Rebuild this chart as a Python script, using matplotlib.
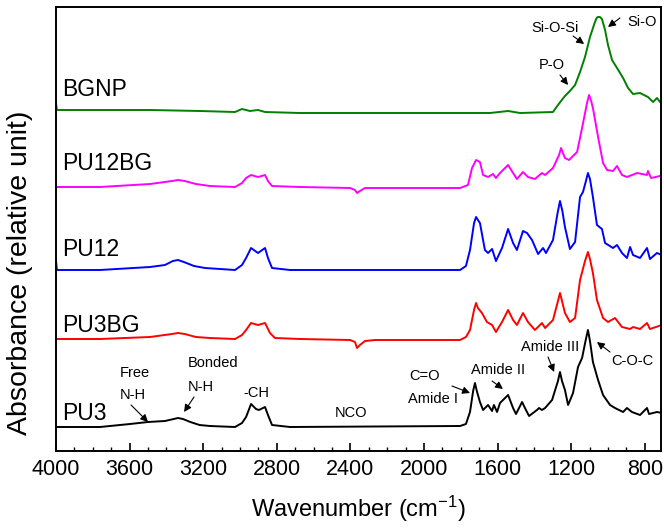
import matplotlib
matplotlib.use("Agg")
import matplotlib.pyplot as plt
from matplotlib.ticker import MultipleLocator

plt.rcParams['font.family'] = ['Liberation Sans', 'DejaVu Sans']
plt.rcParams['mathtext.default'] = 'regular'

# ---------------- data (wavenumber cm-1, absorbance in arbitrary stacked units) -------------
pu3_w = [4000, 3761, 3598, 3500, 3408, 3360, 3337, 3310, 3270, 3220, 3163, 3027, 2989, 2967,
         2940, 2913, 2897, 2864, 2848, 2826, 2728, 1804, 1772, 1750, 1733, 1723, 1713, 1696,
         1679, 1652, 1630, 1620, 1603, 1587, 1543, 1516, 1500, 1467, 1446, 1429, 1386, 1375,
         1359, 1342, 1304, 1272, 1261, 1250, 1234, 1217, 1190, 1163, 1141, 1120, 1109, 1098,
         1082, 1054, 1027, 989, 962, 918, 897, 870, 826, 788, 777, 734, 707]
pu3_a = [24, 24, 27, 29, 30, 32, 33, 32, 29, 26, 25, 24, 28, 34,
         47, 42, 41, 44, 36, 26, 24, 25, 27, 39, 60, 68, 60, 49,
         41, 46, 40, 46, 39, 48, 56, 43, 37, 49, 41, 35, 41, 43,
         41, 43, 51, 70, 79, 70, 61, 46, 58, 84, 93, 112, 121, 110,
         89, 71, 56, 46, 43, 39, 43, 39, 36, 43, 37, 39, 38]

pu3bg_w = [4000, 3761, 3489, 3370, 3337, 3300, 3240, 3163, 3027, 2989, 2967, 2940, 2902, 2864,
           2837, 2810, 2674, 2402, 2375, 2364, 2348, 2321, 2266, 1804, 1772, 1750, 1727, 1717,
           1707, 1685, 1658, 1630, 1609, 1576, 1543, 1516, 1495, 1462, 1435, 1397, 1359, 1342,
           1299, 1272, 1261, 1250, 1234, 1207, 1179, 1152, 1125, 1109, 1098, 1082, 1060, 1027,
           1000, 962, 924, 880, 864, 826, 788, 772, 707]
pu3bg_a = [112, 112, 114, 117, 118, 117, 114, 113, 112, 116, 121, 128, 126, 128,
           118, 113, 112, 111, 109, 103, 106, 110, 111, 111, 114, 121, 142, 148,
           143, 138, 129, 126, 119, 129, 141, 131, 126, 138, 129, 121, 128, 123,
           131, 150, 158, 150, 138, 129, 133, 171, 190, 199, 192, 178, 151, 133,
           129, 133, 124, 122, 124, 122, 128, 122, 126]

pu12_w = [4000, 3995, 3761, 3489, 3408, 3365, 3337, 3305, 3250, 3190, 3027, 2989, 2967, 2940,
          2902, 2864, 2848, 2826, 2728, 1804, 1772, 1750, 1728, 1717, 1707, 1696, 1669, 1652,
          1630, 1609, 1576, 1543, 1516, 1495, 1462, 1440, 1413, 1380, 1353, 1337, 1299, 1274,
          1261, 1248, 1234, 1207, 1179, 1152, 1136, 1120, 1109, 1098, 1082, 1060, 1033, 1016,
          973, 951, 924, 897, 880, 864, 826, 788, 772, 734, 707]
pu12_a = [190, 181, 181, 184, 186, 190, 191, 189, 185, 183, 181, 186, 193, 203,
          198, 203, 193, 183, 181, 181, 185, 201, 228, 234, 231, 228, 201, 198,
          202, 190, 203, 222, 208, 201, 220, 218, 211, 197, 203, 198, 211, 238,
          250, 240, 224, 202, 209, 254, 259, 270, 278, 272, 254, 226, 222, 208,
          203, 206, 198, 193, 204, 196, 193, 203, 192, 198, 196]

pu12bg_w = [4000, 3761, 3489, 3370, 3337, 3300, 3240, 3163, 3027, 2989, 2967, 2940, 2902, 2864,
            2848, 2826, 2674, 2402, 2375, 2364, 2348, 2321, 1804, 1761, 1739, 1717, 1696, 1679,
            1652, 1625, 1609, 1587, 1543, 1516, 1495, 1462, 1435, 1397, 1359, 1342, 1299, 1266,
            1255, 1245, 1234, 1212, 1168, 1141, 1114, 1103, 1093, 1082, 1054, 1027, 1005, 973,
            951, 924, 897, 842, 788, 783, 766, 717]
pu12bg_a = [264, 264, 267, 270, 271, 270, 267, 265, 264, 268, 273, 276, 274, 276,
            270, 265, 264, 263, 261, 258, 260, 263, 263, 266, 283, 291, 289, 276,
            274, 277, 273, 278, 286, 278, 272, 279, 274, 272, 278, 276, 283, 296,
            303, 298, 293, 291, 299, 323, 348, 356, 351, 343, 314, 288, 281, 280,
            285, 276, 274, 278, 276, 280, 273, 275]

bgnp_w = [4000, 3995, 3761, 3489, 3217, 3027, 2989, 2946, 2902, 2864, 2674, 2130, 1750, 1641,
          1543, 1478, 1299, 1272, 1234, 1207, 1179, 1152, 1125, 1098, 1071, 1062, 1055, 1044,
          1033, 1016, 1000, 978, 951, 918, 891, 864, 826, 783, 755, 734, 717]
bgnp_a = [348, 341, 341, 341, 340, 339, 342, 340, 341, 339, 338, 338, 338, 338,
          340, 338, 339, 346, 355, 360, 366, 379, 394, 414, 429, 433, 434, 434,
          432, 421, 406, 391, 383, 373, 363, 357, 358, 354, 349, 353, 349]

series_names = ['BGNP', 'PU12BG', 'PU12', 'PU3BG', 'PU3']
series_colors = ['#008000', '#ff00ff', '#0000ff', '#ff0000', '#000000']
series_w = [bgnp_w, pu12bg_w, pu12_w, pu3bg_w, pu3_w]
series_a = [bgnp_a, pu12bg_a, pu12_a, pu3bg_a, pu3_a]
label_y = [361, 287, 202, 125, 38]

x_ticks = [4000, 3600, 3200, 2800, 2400, 2000, 1600, 1200, 800]

# annotations: (text, text position (w, y), arrow start, arrow end)
annots = [
    ('Free', (3571, 78), None, None),
    ('N-H', (3582, 56), (3592, 46), (3500, 29)),
    ('Bonded', (3147, 88), None, None),
    ('N-H', (3212, 64), (3250, 54), (3304, 39)),
    ('-CH', (2913, 58), None, None),
    ('NCO', (2397, 38), None, None),
    ('C=O', (2000, 75), (1848, 65), (1750, 58)),
    ('Amide I', (1951, 52), None, None),
    ('Amide II', (1598, 81), (1630, 70), (1571, 62)),
    ('Amide III', (1315, 104), (1326, 94), (1293, 79)),
    ('C-O-C', (870, 90), (989, 99), (1060, 109)),
    ('Si-O-Si', (1288, 423), (1190, 415), (1130, 407)),
    ('Si-O', (815, 429), (935, 433), (1000, 424)),
    ('P-O', (1304, 386), (1261, 376), (1217, 366)),
]

# ---------------- figure ----------------
fig = plt.figure(figsize=(6.64, 5.32), dpi=100)
ax = fig.add_axes([56 / 664, 81 / 532, 605 / 664, 444 / 532])

for name, c, w, a, ly in zip(series_names, series_colors, series_w, series_a, label_y):
    ax.plot(w, a, color=c, lw=1.4, solid_joinstyle='round')
    ax.text(3965, ly, name, fontsize=16.5, ha='left', va='center')

for txt, pos, a0, a1 in annots:
    ax.text(pos[0], pos[1], txt, fontsize=10.5, ha='center', va='center')
    if a0 is not None:
        ax.annotate('', xy=a1, xytext=a0,
                    arrowprops=dict(arrowstyle='-|>', color='k', lw=0.8,
                                    mutation_scale=11, shrinkA=0, shrinkB=0))

ax.set_xlim(4000, 712)
ax.set_ylim(0, 444)
ax.set_xticks(x_ticks)
ax.set_xticklabels([str(t) for t in x_ticks])
ax.xaxis.set_minor_locator(MultipleLocator(100))
ax.set_yticks([])
ax.tick_params(axis='x', which='major', direction='in', length=6, width=1.2,
               labelsize=15.5, pad=6)
ax.tick_params(axis='x', which='minor', direction='in', length=3, width=1.0)
for s in ax.spines.values():
    s.set_linewidth(1.4)

ax.set_xlabel('Wavenumber (cm$^{-1}$)', fontsize=17, labelpad=10)
fig.text(20 / 664, 1 - 273 / 532, 'Absorbance (relative unit)', fontsize=20.5,
         rotation=90, ha='center', va='center')

fig.savefig('out.png', dpi=100)
